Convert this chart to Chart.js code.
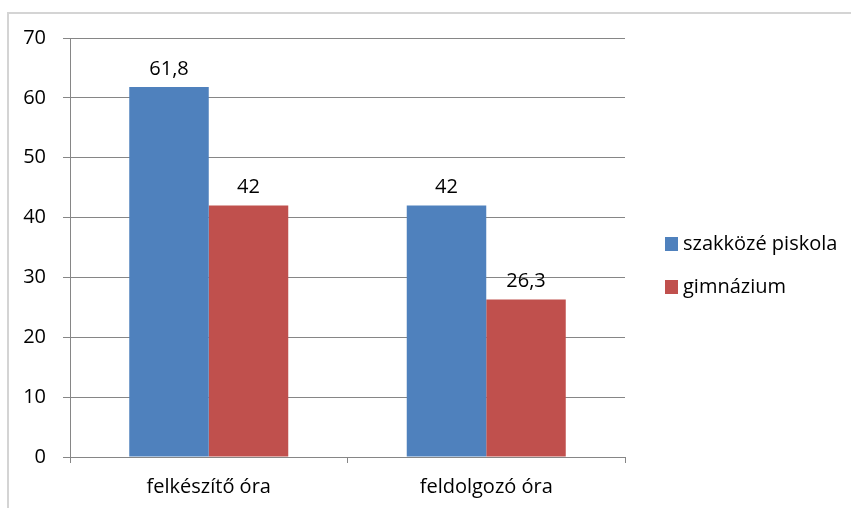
<!DOCTYPE html>
<html>
<head>
<meta charset="utf-8">
<script src="https://cdn.jsdelivr.net/npm/chart.js@4.4.1/dist/chart.umd.min.js"></script>
<style>
  html, body { margin: 0; padding: 0; background: #fff; }
  #wrap { position: relative; width: 851px; height: 508px; overflow: hidden; }
  #frame { position: absolute; left: 7px; top: 12px; width: 900px; height: 600px;
           border-left: 2px solid #d4d4d4; border-top: 2px solid #d4d4d4; }
  canvas { position: absolute; left: 0; top: 0; }
</style>
</head>
<body>
<div id="wrap">
  <div id="frame"></div>
  <canvas id="c" width="851" height="508"></canvas>
</div>
<script>
const categories = ['felkészítő óra', 'feldolgozó óra'];
const seriesNames = ['szakközé piskola', 'gimnázium'];
const szakkozepValues = [61.8, 42];
const gimnaziumValues = [42, 26.3];
const yTicks = [0, 10, 20, 30, 40, 50, 60, 70];

const FONT = '"Open Sans", sans-serif';
const FSIZE = 20;
const colors = ['#4F81BD', '#C0504D'];

// value labels above each bar, with Hungarian decimal comma
const valueLabels = {
  id: 'valueLabels',
  afterDatasetsDraw(chart) {
    const ctx = chart.ctx;
    ctx.save();
    ctx.font = FSIZE + 'px ' + FONT;
    ctx.fillStyle = '#000';
    ctx.textAlign = 'center';
    ctx.textBaseline = 'bottom';
    chart.data.datasets.forEach((ds, i) => {
      chart.getDatasetMeta(i).data.forEach((bar, j) => {
        ctx.fillText(String(ds.data[j]).replace('.', ','), bar.x, bar.y - 8);
      });
    });
    ctx.restore();
  }
};

// legend drawn to the right of the plot, Excel style
const sideLegend = {
  id: 'sideLegend',
  afterDraw(chart) {
    const ctx = chart.ctx;
    ctx.save();
    ctx.font = FSIZE + 'px ' + FONT;
    ctx.textBaseline = 'middle';
    ctx.textAlign = 'left';
    chart.data.datasets.forEach((ds, i) => {
      const y = 244 + i * 43;
      ctx.fillStyle = ds.backgroundColor;
      ctx.fillRect(665, y - 7, 13, 14);
      ctx.fillStyle = '#000';
      ctx.fillText(ds.label, 683, y);
    });
    ctx.restore();
  }
};

new Chart(document.getElementById('c'), {
  type: 'bar',
  data: {
    labels: categories,
    datasets: [
      { label: seriesNames[0], data: szakkozepValues, backgroundColor: colors[0] },
      { label: seriesNames[1], data: gimnaziumValues, backgroundColor: colors[1] }
    ]
  },
  options: {
    responsive: false,
    animation: false,
    layout: { padding: { left: 0, top: 38, right: 226, bottom: 0 } },
    categoryPercentage: 0.573,
    barPercentage: 1,
    plugins: {
      legend: { display: false },
      tooltip: { enabled: false }
    },
    scales: {
      x: {
        grid: { display: true, drawOnChartArea: false, color: '#868686', tickLength: 6, offset: true },
        border: { color: '#868686', width: 1 },
        ticks: { color: '#000', font: { family: FONT, size: FSIZE }, padding: 12 },
        afterFit(s) { s.height = 51; }
      },
      y: {
        min: 0, max: 70,
        afterBuildTicks(s) { s.ticks = yTicks.map(v => ({ value: v })); },
        grid: { color: '#868686', tickLength: 7 },
        border: { color: '#868686', width: 1 },
        ticks: { color: '#000', font: { family: FONT, size: FSIZE }, padding: 17 },
        afterFit(s) { s.width = 70; }
      }
    }
  },
  plugins: [valueLabels, sideLegend]
});
</script>
</body>
</html>
